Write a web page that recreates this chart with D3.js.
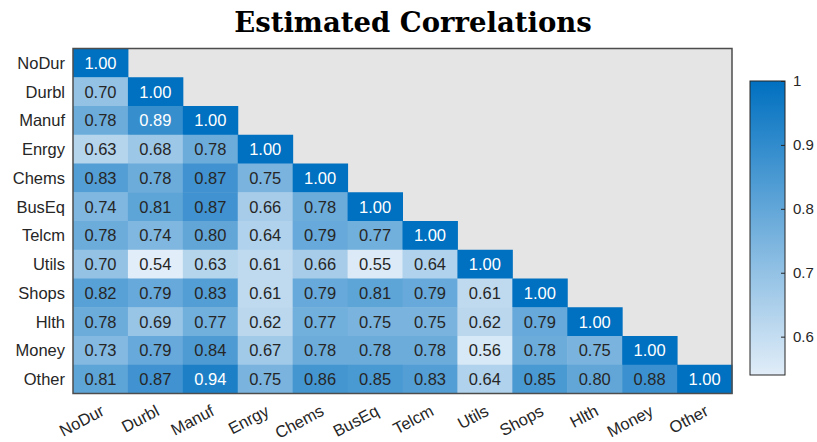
<!DOCTYPE html>
<html><head><meta charset="utf-8">
<script src="https://cdn.jsdelivr.net/npm/d3@7"></script>
<style>body{margin:0;background:#fff;} text{font-family:"Liberation Sans",Arial,sans-serif;}</style>
</head><body><svg id="c" width="817" height="442"></svg>
<script>
const categories = ["NoDur","Durbl","Manuf","Enrgy","Chems","BusEq","Telcm","Utils","Shops","Hlth","Money","Other"];
const rowNoDur = [1.00];
const rowDurbl = [0.70,1.00];
const rowManuf = [0.78,0.89,1.00];
const rowEnrgy = [0.63,0.68,0.78,1.00];
const rowChems = [0.83,0.78,0.87,0.75,1.00];
const rowBusEq = [0.74,0.81,0.87,0.66,0.78,1.00];
const rowTelcm = [0.78,0.74,0.80,0.64,0.79,0.77,1.00];
const rowUtils = [0.70,0.54,0.63,0.61,0.66,0.55,0.64,1.00];
const rowShops = [0.82,0.79,0.83,0.61,0.79,0.81,0.79,0.61,1.00];
const rowHlth  = [0.78,0.69,0.77,0.62,0.77,0.75,0.75,0.62,0.79,1.00];
const rowMoney = [0.73,0.79,0.84,0.67,0.78,0.78,0.78,0.56,0.78,0.75,1.00];
const rowOther = [0.81,0.87,0.94,0.75,0.86,0.85,0.83,0.64,0.85,0.80,0.88,1.00];
const rows = [rowNoDur,rowDurbl,rowManuf,rowEnrgy,rowChems,rowBusEq,rowTelcm,rowUtils,rowShops,rowHlth,rowMoney,rowOther];
const colorTicks = [0.6,0.7,0.8,0.9,1];
const title = "Estimated Correlations";

const svg = d3.select("#c");
const L=73, R=732, T=48.5, B=393.5;
const x = d3.scaleBand().domain(categories).range([L,R]);
const y = d3.scaleBand().domain(categories).range([T,B]);
const color = d3.scaleLinear().domain([0.54,1]).range(["#e1edf8","#0070c0"]);

svg.append("rect").attr("x",L).attr("y",T).attr("width",R-L).attr("height",B-T).attr("fill","#e5e5e5");

const cells=[];
rows.forEach((r,i)=>r.forEach((v,j)=>cells.push({r:categories[i],c:categories[j],v})));
svg.append("g").selectAll("rect").data(cells).join("rect")
  .attr("x",d=>x(d.c)).attr("y",d=>y(d.r)).attr("width",x.bandwidth()+0.5).attr("height",y.bandwidth()+0.5)
  .attr("fill",d=>color(d.v));
svg.append("g").selectAll("text").data(cells).join("text")
  .attr("x",d=>x(d.c)+x.bandwidth()/2).attr("y",d=>y(d.r)+y.bandwidth()/2)
  .attr("dy","0.36em").attr("text-anchor","middle").attr("font-size",16.5)
  .attr("fill",d=>d.v>=0.885?"#ffffff":"#262626").text(d=>d.v.toFixed(2));

svg.append("rect").attr("x",L).attr("y",T).attr("width",R-L).attr("height",B-T).attr("fill","none").attr("stroke","#4d4d4d").attr("stroke-width",1.5);

// y labels
svg.append("g").selectAll("text").data(categories).join("text")
  .attr("x",L-8).attr("y",d=>y(d)+y.bandwidth()/2).attr("dy","0.36em").attr("text-anchor","end")
  .attr("font-size",16.5).attr("fill","#262626").text(d=>d);
// x labels
svg.append("g").selectAll("text").data(categories).join("text")
  .attr("transform",d=>`translate(${x(d)+x.bandwidth()/2+5},${B+21}) rotate(-28)`)
  .attr("text-anchor","end").attr("font-size",16.5).attr("fill","#262626").text(d=>d);

// title
svg.append("text").attr("x",413).attr("y",32).attr("text-anchor","middle")
  .attr("font-weight","bold").attr("font-size",27.5)
  .attr("fill","#000").style("font-family","'DejaVu Serif',serif").text(title);

// colorbar
const cbX=750, cbW=35, cbT=81, cbB=375;
const cy = d3.scaleLinear().domain([0.54,1]).range([cbB,cbT]);
const defs=svg.append("defs");
const grad=defs.append("linearGradient").attr("id","g").attr("x1",0).attr("y1",1).attr("x2",0).attr("y2",0);
grad.append("stop").attr("offset","0%").attr("stop-color",color(0.54));
grad.append("stop").attr("offset","100%").attr("stop-color",color(1));
svg.append("rect").attr("x",cbX).attr("y",cbT).attr("width",cbW).attr("height",cbB-cbT).attr("fill","url(#g)").attr("stroke","#262626").attr("stroke-width",1);
const ax = svg.append("g").attr("transform",`translate(${cbX+cbW},0)`)
  .call(d3.axisRight(cy).tickValues(colorTicks).tickFormat(d3.format("")).tickSize(-4).tickPadding(8));
ax.select(".domain").remove();
ax.selectAll("line").attr("stroke","#262626");
ax.selectAll("text").attr("font-size",15).attr("fill","#262626").attr("font-family","'Liberation Sans',Arial,sans-serif");
</script></body></html>
